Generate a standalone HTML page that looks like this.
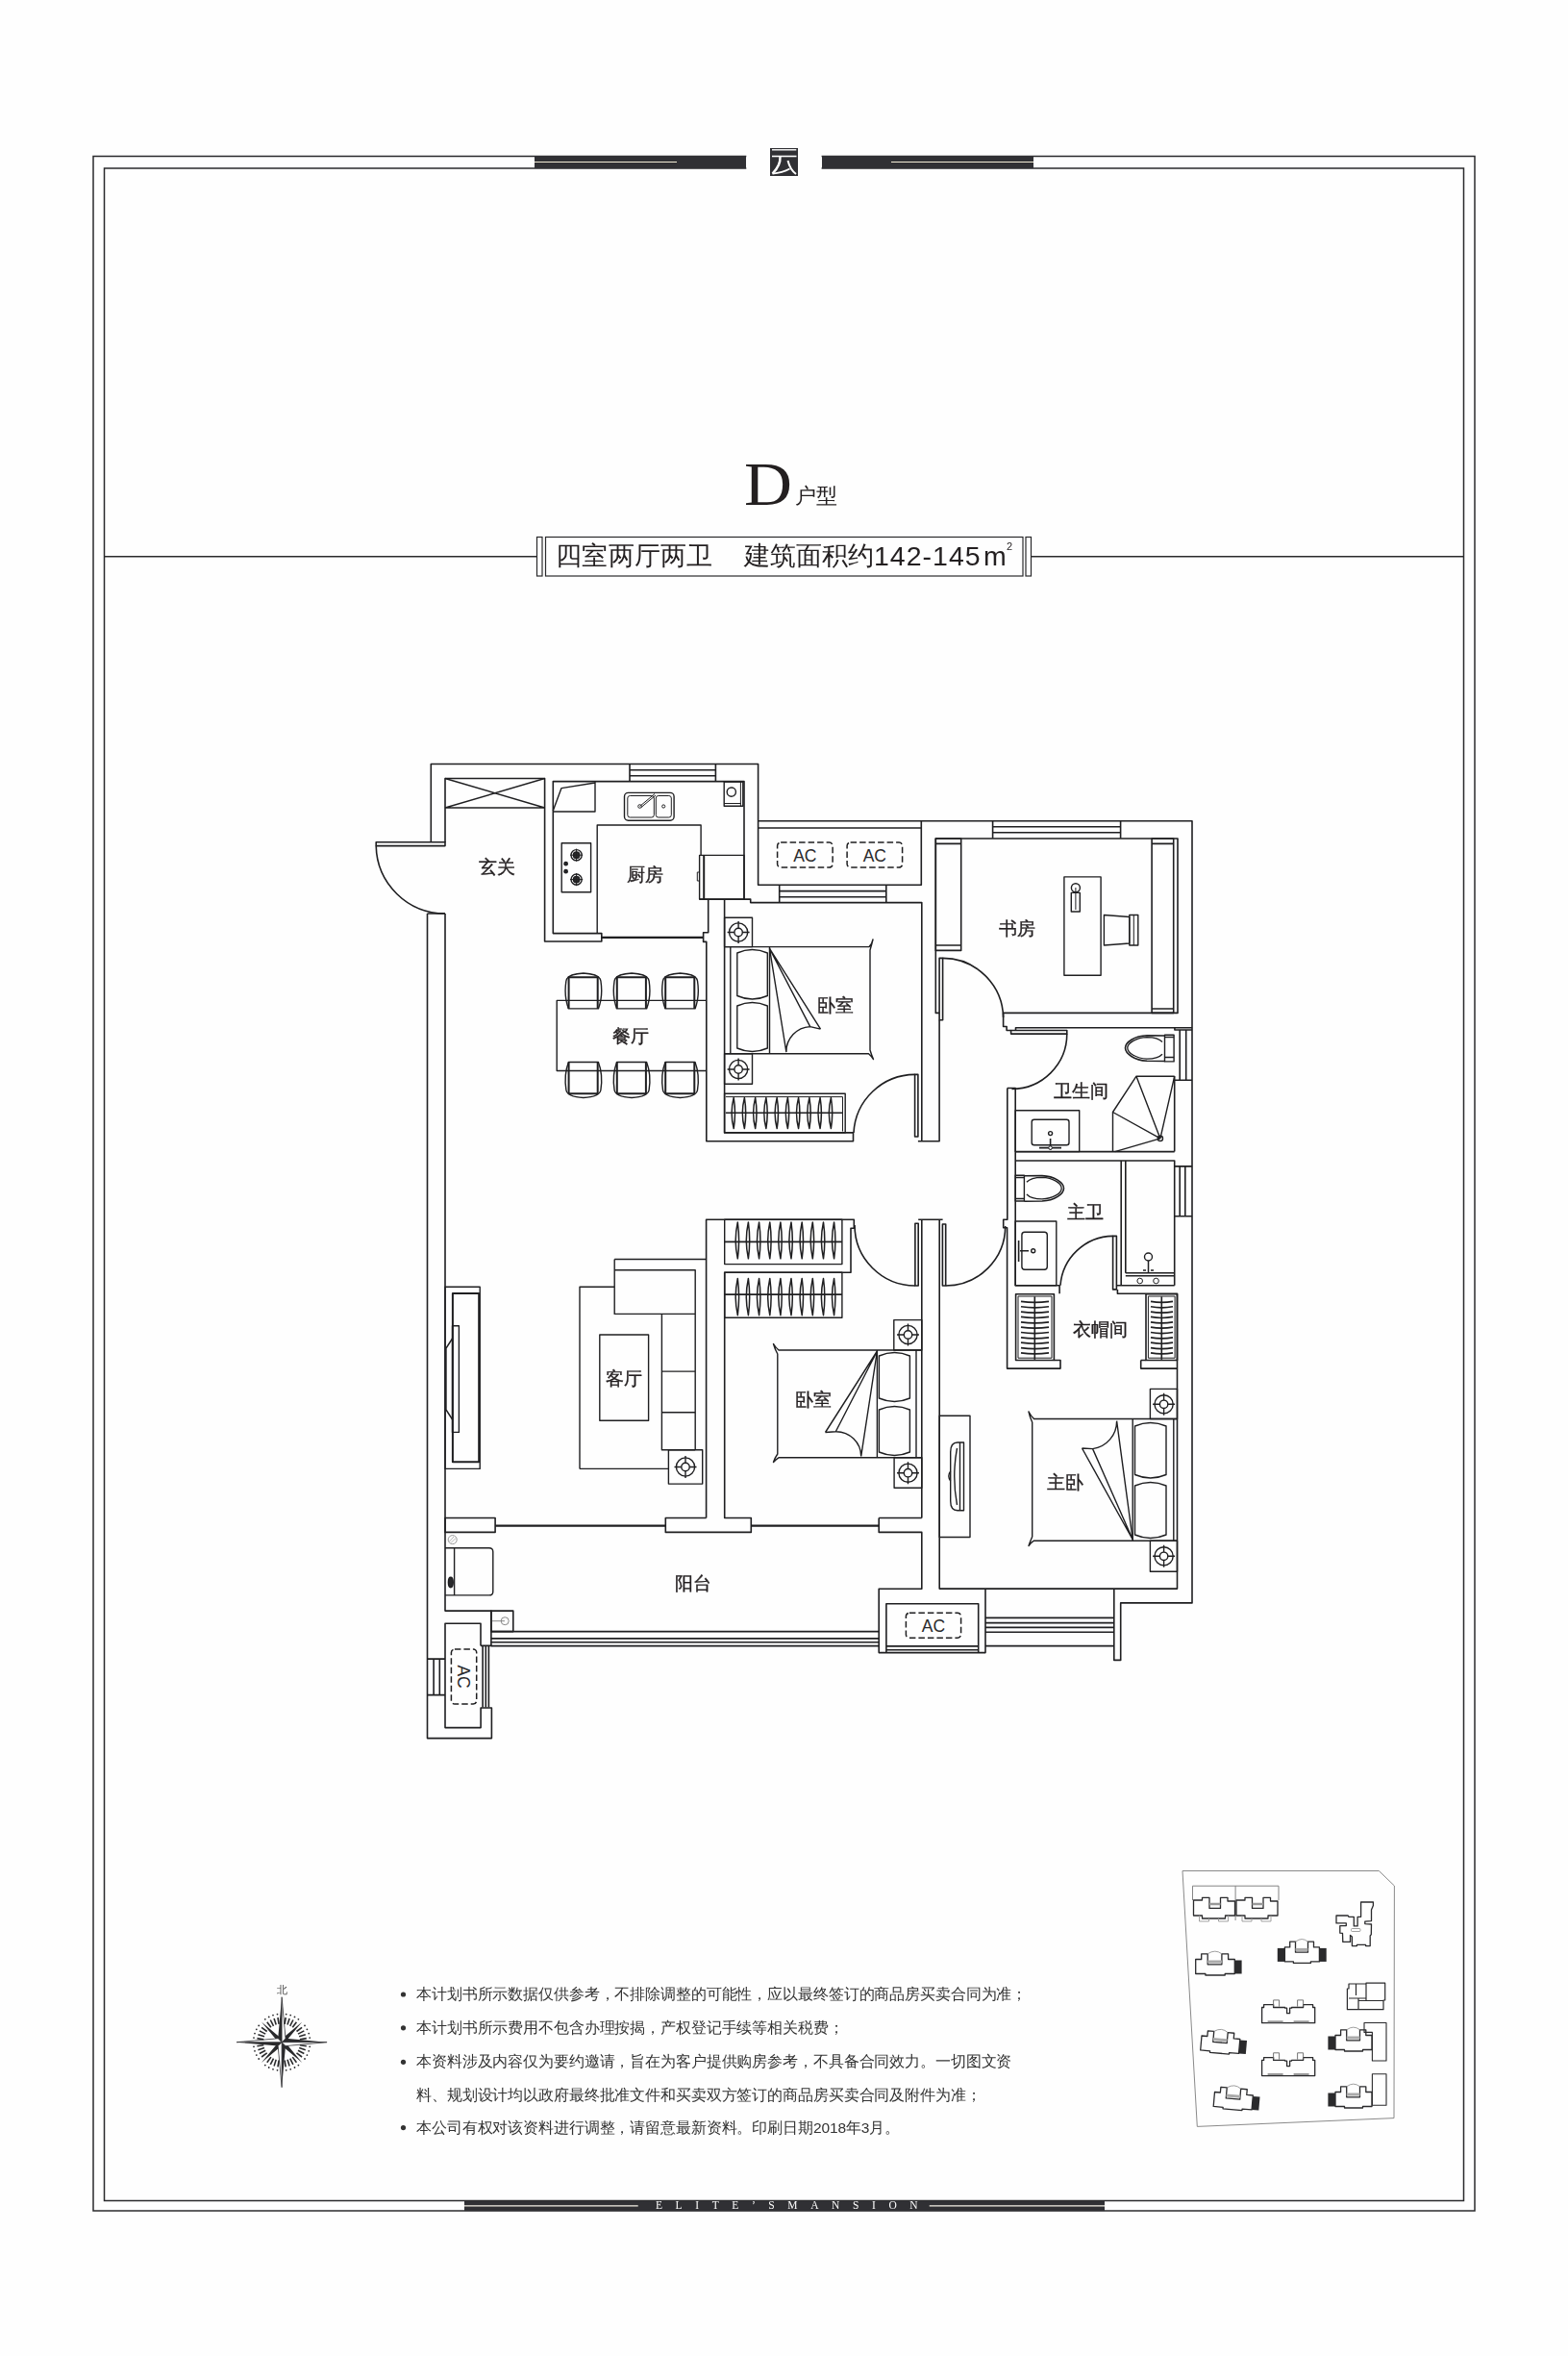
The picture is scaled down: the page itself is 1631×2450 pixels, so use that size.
<!DOCTYPE html>
<html><head><meta charset="utf-8">
<style>
html,body{margin:0;padding:0;background:#fefefe;}
body{width:1631px;height:2450px;position:relative;overflow:hidden;font-family:"Liberation Sans",sans-serif;}
svg{position:absolute;left:0;top:0;}
.t{position:absolute;white-space:nowrap;line-height:1;color:#231f20;will-change:transform;}
.lb{font-family:"Liberation Serif",serif;font-size:19px;-webkit-text-stroke:0.35px #231f20;}
.nt{font-size:15.5px;color:#333;letter-spacing:-0.12px;}
</style></head><body>
<svg width="1631" height="2450" viewBox="0 0 1631 2450">
<g fill="none" stroke="#2a2a2c" stroke-width="1.5">
<!-- frame -->
<rect x="97" y="162.5" width="1437" height="2136.5"/>
<rect x="108.5" y="175" width="1414" height="2113.5"/>
<line x1="108.5" y1="578.7" x2="558.5" y2="578.7"/>
<line x1="1073" y1="578.7" x2="1522.5" y2="578.7"/>
<rect x="558.5" y="558.5" width="5.5" height="40.5" stroke-width="1.2"/>
<rect x="567.5" y="558.5" width="496.5" height="40.5" stroke-width="1.2"/>
<rect x="1067" y="558.5" width="5.5" height="40.5" stroke-width="1.2"/>
</g>
<!-- header bars -->
<rect x="776.3" y="159" width="24.9" height="19" fill="#fefefe"/><rect x="829.8" y="159" width="24.8" height="19" fill="#fefefe"/>
<g fill="#303034">
<rect x="556" y="162" width="220" height="13"/>
<rect x="855" y="162" width="220" height="13"/>
<rect x="801" y="154" width="29" height="29"/>
</g>
<g fill="none" stroke="#fff" stroke-linecap="butt">
<path d="M803,155.8 H828.3" stroke-width="1.4"/>
<path d="M803,162.5 H828.5" stroke-width="1.6"/>
<path d="M811.5,163 C812,170 809,175 803.5,180.5" stroke-width="2.4"/>
<path d="M803.5,180.6 C810,180 816,178.5 821.5,175.5" stroke-width="1.8"/>
<path d="M819.5,167 C821,173 824,178 828,181" stroke-width="2"/>
</g>
<g stroke="#f3ecd6" stroke-width="1.2">
<line x1="556" y1="168.5" x2="704" y2="168.5"/>
<line x1="927" y1="168.5" x2="1075" y2="168.5"/>
</g>

<g id="plan" fill="none" stroke="#1f1f21" stroke-width="1.6" stroke-linejoin="round">
<!-- entry / top-left -->
<rect x="391.2" y="875.8" width="71.8" height="3.8"/>
<path d="M448.3,876 V794.5 H788.6 V920.3 H958.3 V853.7"/>
<path d="M788.6,853.7 H1240 V1666.9 H1165.7 V1726.4 H1158.8 V1652.7"/>
<path d="M788.6,861 H958.3"/>
<path d="M463,876 V809.5 H566.6 V979 H625.8 V970.6 H575.3 V812.6 H774 V935.1"/>
<path d="M463,840 H566.6 M463,809.5 L566.6,840 M463,840 L566.6,809.5" stroke-width="1.4"/>
<path d="M444.5,950 H463 M444.5,950 V1807.6 H511.4 V1776 H500.1 V1796.6 H463 V1688.2 H500 V1711.4"/>
<path d="M463,950 V1675.1 H510.9 V1711.5"/>
<!-- door arcs -->
<path d="M391.2,879.6 A71.8,71.8 0 0 0 463,950"/>
<!-- kitchen windows -->
<path d="M655,794.5 V812.6 M744.4,794.5 V812.6 M655,800.7 H744.4 M655,806.8 H744.4"/>
<!-- kitchen south wall / sliding door -->
<path d="M625.8,974.9 H731.6" stroke-width="2.2"/>
<path d="M727.4,935.1 H780.7 V938.6 H958.8 V1186.7"/>
<path d="M736.7,935.1 V969.8 H731.6 V979.4 H734.8 V1186.7 H887.5 V1177.9 H753.6 V935.1"/>
<!-- AC window below platform -->
<path d="M810.7,920.3 V939 M921.8,920.3 V939 M810.7,926.6 H921.8 M810.7,932.7 H921.8"/>
<!-- bedroom2 door -->
<rect x="951.6" y="1117.4" width="3.3" height="64.6"/>
<path d="M888,1177.9 A64,64 0 0 1 951.6,1117.4"/>
<path d="M954.9,1186.7 H977.1 V1060.8"/>
<!-- study -->
<path d="M977.1,1053.4 H973.3 V872 H1225 V1053.4 H1043.6 V1067.5 H1047.1 V1071.5 H1051.6"/>
<rect x="977.1" y="996.4" width="3.5" height="64.4"/>
<path d="M980.6,996.4 A63,63 0 0 1 1043.6,1058"/>
<path d="M1032.6,853.7 V871.7 M1165.6,853.7 V871.7 M1032.6,859.7 H1165.6 M1032.6,865.8 H1165.6"/>
<rect x="973.3" y="872" width="26.4" height="116.4"/>
<path d="M973.3,877.4 H999.7 M973.3,983 H999.7"/>
<rect x="1198.1" y="872" width="22.6" height="181.4"/>
<path d="M1198.1,877.4 H1220.7 M1198.1,1049 H1220.7"/>
<!-- bathroom 1 -->
<rect x="1051.6" y="1071.5" width="58.2" height="3.6"/>
<path d="M1056.5,1071.5 V1068.7 H1240"/>
<path d="M1109.8,1075.1 A57.3,57.3 0 0 1 1052.5,1132.4"/>
<path d="M1047.8,1131.5 H1056.2 V1336.7 H1102.1 V1345.3 M1047.8,1131.5 V1268.2 H1043.7 V1276.8 H1047.6 V1423.1 H1103 V1414.5 H1096.4"/>
<path d="M1221.9,1068.7 V1071 H1240 M1221.7,1123.3 H1240 M1227.2,1071 V1123.3 M1233.7,1071 V1123.3 M1221.7,1119.2 V1197.6"/>
<path d="M1056.2,1197.6 H1221.7 M1056.2,1207 H1221.7 V1336.7"/>
<path d="M1221.7,1212.9 H1240 M1221.7,1264.7 H1240 M1227.2,1212.9 V1264.7 M1232.8,1212.9 V1264.7"/>
<!-- master bath -->
<path d="M1166.2,1207 V1336.7 M1170.8,1207 V1323.7"/>
<rect x="1157.6" y="1285.4" width="3.8" height="55.5"/>
<path d="M1103,1336.7 A55.5,55.5 0 0 1 1157.6,1285.4"/>
<path d="M1161.4,1336.7 H1221.7 M1162.4,1340.9 V1345.3 H1224.5 V1652.1 H977.2 V1268.2"/>
<!-- closets -->
<rect x="1056.6" y="1345.7" width="39.8" height="68.8"/>
<rect x="1059" y="1348" width="35" height="64.2" stroke-width="1"/>
<rect x="1192" y="1345.7" width="32.5" height="68.8"/>
<rect x="1194.4" y="1348" width="27.7" height="64.2" stroke-width="1"/>
<path d="M1186.7,1414.5 V1423.1 H1224.5 M1186.7,1414.5 H1192"/>
<!-- corridor doors -->
<rect x="951.9" y="1272.3" width="3.3" height="64.7"/>
<rect x="980.4" y="1273" width="3.3" height="64"/>
<path d="M889,1274 A63,63 0 0 0 951.9,1337"/>
<path d="M983.7,1337 A62,62 0 0 0 1045.7,1275"/>
<path d="M955.2,1268.2 H980.6 M958.8,1268.2 V1578.5"/>
<!-- bedroom 3 -->
<path d="M734.6,1578.5 V1268.2 H888.3 V1277.3 H885 V1323.2 H753.7 V1578.5 H781.3 V1593.4 H692.3 V1578.5 H734.6"/>
<path d="M914.2,1578.5 H958.8 M914.2,1578.5 V1593.4 H958.8 V1652.2 H914.2 V1718.6 H1025 V1652.2"/>
<path d="M921.9,1718.6 V1667.7 H1017.7 V1718.6 M921.9,1711.9 H1017.7 M921.9,1715.7 H1017.7"/>
<path d="M1025,1682.4 H1158.8 M1025,1687.6 H1158.8 M1025,1692.4 H1158.8 M1025,1697.2 H1158.8 M1025,1711.6 H1158.8"/>
<!-- living balcony -->
<rect x="463" y="1578.5" width="52.1" height="14.9"/>
<path d="M515.1,1586.6 H692.3 M781.3,1586.6 H914.2" stroke-width="2.2"/>
<path d="M510.9,1696.6 H914.2 M510.9,1703.9 H914.2 M510.9,1707.8 H914.2 M510.9,1711.6 H914.2"/>
<rect x="510.9" y="1675.1" width="22.9" height="21.5"/>
<circle cx="525.2" cy="1685.7" r="4" stroke="#888" stroke-width="1"/>
<path d="M512,1685.7 H525" stroke="#888" stroke-width="1"/>
<path d="M444.5,1725.1 H463 M444.5,1762.6 H463 M451.1,1725.1 V1762.6 M457.3,1725.1 V1762.6"/>
<path d="M502.1,1711.4 V1775.5 M505.3,1711.4 V1775.5 M508.4,1711.4 V1775.5 M500,1711.4 H511.4"/>
</g>

<g fill="none" stroke="#1f1f21" stroke-width="1.4" stroke-linejoin="round">
<rect x="753.6" y="954.2" width="28.9" height="30.4"/><circle cx="768.1" cy="969.5" r="9.6"/><circle cx="768.1" cy="969.5" r="4.2"/><path d="M756.6,969.5 H763.9 M772.3,969.5 H779.6 M768.1,958.0 V965.3 M768.1,973.7 V981.0"/>
<rect x="753.6" y="1095.8" width="28.9" height="31.5"/><circle cx="768.1" cy="1112" r="9.6"/><circle cx="768.1" cy="1112" r="4.2"/><path d="M756.6,1112 H763.9 M772.3,1112 H779.6 M768.1,1100.5 V1107.8 M768.1,1116.2 V1123.5"/>
<rect x="929.8" y="1372.6" width="29.0" height="31.4"/><circle cx="944.5" cy="1388" r="9.6"/><circle cx="944.5" cy="1388" r="4.2"/><path d="M933.0,1388 H940.3 M948.7,1388 H956.0 M944.5,1376.5 V1383.8 M944.5,1392.2 V1399.5"/>
<rect x="930.1" y="1515.8" width="28.7" height="31.5"/><circle cx="944.5" cy="1531.7" r="9.6"/><circle cx="944.5" cy="1531.7" r="4.2"/><path d="M933.0,1531.7 H940.3 M948.7,1531.7 H956.0 M944.5,1520.2 V1527.5 M944.5,1535.9 V1543.2"/>
<rect x="1196.4" y="1444.4" width="28.1" height="31.1"/><circle cx="1210.6" cy="1460.3" r="9.6"/><circle cx="1210.6" cy="1460.3" r="4.2"/><path d="M1199.1,1460.3 H1206.4 M1214.8,1460.3 H1222.1 M1210.6,1448.8 V1456.1 M1210.6,1464.5 V1471.8"/>
<rect x="1196.4" y="1602.2" width="28.1" height="32.0"/><circle cx="1210.6" cy="1618.3" r="9.6"/><circle cx="1210.6" cy="1618.3" r="4.2"/><path d="M1199.1,1618.3 H1206.4 M1214.8,1618.3 H1222.1 M1210.6,1606.8 V1614.1 M1210.6,1622.5 V1629.8"/>
<rect x="695.4" y="1507.7" width="35.3" height="35.4"/><circle cx="713" cy="1525.5" r="9.6"/><circle cx="713" cy="1525.5" r="4.2"/><path d="M701.5,1525.5 H708.8 M717.2,1525.5 H724.5 M713,1514.0 V1521.3 M713,1529.7 V1537.0"/>
<path d="M753.6,984.6 H904 Q907,982 908,977 Q906.5,983 905,988 V1092 Q906.5,1097 908.5,1101.5 Q906,1098 903.5,1095.8 H753.6"/>
<path d="M759.8,984.6 V1095.8 M800.5,984.6 V1095.8"/>
<path d="M766.8,991 Q782.5,984 798.3,991 V1035.5 Q782.5,1042.5 766.8,1035.5 Z M766.8,1046 Q782.5,1039 798.3,1046 V1090 Q782.5,1097 766.8,1090 Z"/>
<path d="M800.5,986.4 L853.5,1070.1 M800.5,986.4 L842.7,1067.6 M800.5,986.4 L817.9,1094.2 M817.9,1094.2 A26,26 0 0 1 842.7,1067.6 L853.5,1070.1"/>
<path d="M958.8,1404 H810 Q806.5,1401 804.5,1397.5 Q806,1403 808.8,1408 V1512 Q806,1516 804.5,1520.5 Q807,1517.5 810,1515.8 H958.8"/>
<path d="M912.4,1404 V1515.8 M953,1404 V1515.8"/>
<path d="M914.4,1410 Q930.4,1403 946.4,1410 V1454 Q930.4,1461 914.4,1454 Z M914.4,1466 Q930.4,1459 946.4,1466 V1510 Q930.4,1517 914.4,1510 Z"/>
<path d="M912.4,1405 L858.5,1489.5 M912.4,1405 L869.3,1488.7 M912.4,1405 L895.7,1514.4 M858.5,1489.5 L869.3,1488.7 A26,26 0 0 1 895.7,1514.4"/>
<path d="M1224.5,1475.5 H1075.5 Q1072,1472 1070,1468 Q1071.5,1474.5 1073.7,1479 V1598 Q1071.5,1603 1070,1607.5 Q1072.5,1604 1075.5,1602.2 H1224.5"/>
<path d="M1178.2,1475.5 V1602.2 M1220.8,1475.5 V1602.2"/>
<path d="M1180.5,1483 Q1196.7,1476 1213,1483 V1533.5 Q1196.7,1540.5 1180.5,1533.5 Z M1180.5,1545 Q1196.7,1538 1213,1545 V1596 Q1196.7,1603 1180.5,1596 Z"/>
<path d="M1178.2,1601 L1125.5,1506 M1178.2,1601 L1136.6,1506.6 M1178.2,1601 L1161.6,1477.7 M1125.5,1506 L1136.6,1506.6 A29,29 0 0 0 1161.6,1477.7"/>
<rect x="753.6" y="1137.3" width="125.6" height="40.6"/><path d="M754.9,1140.6 H876.5 V1176.5" stroke-width="1"/>
<path d="M754.9,1157.2 H876" stroke-width="1.6"/>
<path d="M763.2,1141.5 Q759.0,1157.5 763.2,1173.5 Q765.8,1157.5 763.2,1141.5 Z" stroke-width="1.5"/><path d="M774.4,1141.5 Q770.2,1157.5 774.4,1173.5 Q777.0,1157.5 774.4,1141.5 Z" stroke-width="1.5"/><path d="M785.7,1141.5 Q781.5,1157.5 785.7,1173.5 Q788.3,1157.5 785.7,1141.5 Z" stroke-width="1.5"/><path d="M796.9,1141.5 Q792.7,1157.5 796.9,1173.5 Q799.5,1157.5 796.9,1141.5 Z" stroke-width="1.5"/><path d="M808.2,1141.5 Q804.0,1157.5 808.2,1173.5 Q810.8,1157.5 808.2,1141.5 Z" stroke-width="1.5"/><path d="M819.4,1141.5 Q815.2,1157.5 819.4,1173.5 Q822.0,1157.5 819.4,1141.5 Z" stroke-width="1.5"/><path d="M830.6,1141.5 Q826.4,1157.5 830.6,1173.5 Q833.2,1157.5 830.6,1141.5 Z" stroke-width="1.5"/><path d="M841.9,1141.5 Q837.7,1157.5 841.9,1173.5 Q844.5,1157.5 841.9,1141.5 Z" stroke-width="1.5"/><path d="M853.1,1141.5 Q848.9,1157.5 853.1,1173.5 Q855.7,1157.5 853.1,1141.5 Z" stroke-width="1.5"/><path d="M864.4,1141.5 Q860.2,1157.5 864.4,1173.5 Q867.0,1157.5 864.4,1141.5 Z" stroke-width="1.5"/>
<rect x="753.7" y="1268.2" width="122.2" height="46.4"/><path d="M753.7,1291.4 H875.9" stroke-width="1.6"/>
<path d="M767.3,1271.0 Q763.1,1289.9 767.3,1308.8 Q769.9,1289.9 767.3,1271.0 Z" stroke-width="1.5"/><path d="M778.4,1271.0 Q774.2,1289.9 778.4,1308.8 Q781.0,1289.9 778.4,1271.0 Z" stroke-width="1.5"/><path d="M789.6,1271.0 Q785.4,1289.9 789.6,1308.8 Q792.2,1289.9 789.6,1271.0 Z" stroke-width="1.5"/><path d="M800.8,1271.0 Q796.6,1289.9 800.8,1308.8 Q803.4,1289.9 800.8,1271.0 Z" stroke-width="1.5"/><path d="M811.9,1271.0 Q807.7,1289.9 811.9,1308.8 Q814.5,1289.9 811.9,1271.0 Z" stroke-width="1.5"/><path d="M823.0,1271.0 Q818.8,1289.9 823.0,1308.8 Q825.6,1289.9 823.0,1271.0 Z" stroke-width="1.5"/><path d="M834.2,1271.0 Q830.0,1289.9 834.2,1308.8 Q836.8,1289.9 834.2,1271.0 Z" stroke-width="1.5"/><path d="M845.3,1271.0 Q841.1,1289.9 845.3,1308.8 Q847.9,1289.9 845.3,1271.0 Z" stroke-width="1.5"/><path d="M856.5,1271.0 Q852.3,1289.9 856.5,1308.8 Q859.1,1289.9 856.5,1271.0 Z" stroke-width="1.5"/><path d="M867.6,1271.0 Q863.4,1289.9 867.6,1308.8 Q870.2,1289.9 867.6,1271.0 Z" stroke-width="1.5"/>
<rect x="753.7" y="1323.2" width="122.2" height="47"/><path d="M753.7,1346.1 H875.9" stroke-width="1.6"/>
<path d="M767.3,1329.5 Q763.1,1348.6 767.3,1367.7 Q769.9,1348.6 767.3,1329.5 Z" stroke-width="1.5"/><path d="M778.4,1329.5 Q774.2,1348.6 778.4,1367.7 Q781.0,1348.6 778.4,1329.5 Z" stroke-width="1.5"/><path d="M789.6,1329.5 Q785.4,1348.6 789.6,1367.7 Q792.2,1348.6 789.6,1329.5 Z" stroke-width="1.5"/><path d="M800.8,1329.5 Q796.6,1348.6 800.8,1367.7 Q803.4,1348.6 800.8,1329.5 Z" stroke-width="1.5"/><path d="M811.9,1329.5 Q807.7,1348.6 811.9,1367.7 Q814.5,1348.6 811.9,1329.5 Z" stroke-width="1.5"/><path d="M823.0,1329.5 Q818.8,1348.6 823.0,1367.7 Q825.6,1348.6 823.0,1329.5 Z" stroke-width="1.5"/><path d="M834.2,1329.5 Q830.0,1348.6 834.2,1367.7 Q836.8,1348.6 834.2,1329.5 Z" stroke-width="1.5"/><path d="M845.3,1329.5 Q841.1,1348.6 845.3,1367.7 Q847.9,1348.6 845.3,1329.5 Z" stroke-width="1.5"/><path d="M856.5,1329.5 Q852.3,1348.6 856.5,1367.7 Q859.1,1348.6 856.5,1329.5 Z" stroke-width="1.5"/><path d="M867.6,1329.5 Q863.4,1348.6 867.6,1367.7 Q870.2,1348.6 867.6,1329.5 Z" stroke-width="1.5"/>
<path d="M1076.3,1348.3 V1413.8" stroke-width="1.6"/><path d="M1062,1353.3999999999999 Q1076.3,1355.5 1091,1353.3999999999999" stroke-width="1.7"/><path d="M1062,1358.7499999999998 Q1076.3,1360.85 1091,1358.7499999999998" stroke-width="1.7"/><path d="M1062,1364.1 Q1076.3,1366.2 1091,1364.1" stroke-width="1.7"/><path d="M1062,1369.4499999999998 Q1076.3,1371.55 1091,1369.4499999999998" stroke-width="1.7"/><path d="M1062,1374.8 Q1076.3,1376.9 1091,1374.8" stroke-width="1.7"/><path d="M1062,1380.1499999999999 Q1076.3,1382.25 1091,1380.1499999999999" stroke-width="1.7"/><path d="M1062,1385.4999999999998 Q1076.3,1387.6 1091,1385.4999999999998" stroke-width="1.7"/><path d="M1062,1390.85 Q1076.3,1392.95 1091,1390.85" stroke-width="1.7"/><path d="M1062,1396.1999999999998 Q1076.3,1398.3 1091,1396.1999999999998" stroke-width="1.7"/><path d="M1062,1401.55 Q1076.3,1403.65 1091,1401.55" stroke-width="1.7"/><path d="M1062,1406.8999999999999 Q1076.3,1409.0 1091,1406.8999999999999" stroke-width="1.7"/>
<path d="M1208.3,1348.3 V1413.8" stroke-width="1.6"/><path d="M1197,1353.3999999999999 Q1208.3,1355.5 1220,1353.3999999999999" stroke-width="1.7"/><path d="M1197,1358.7499999999998 Q1208.3,1360.85 1220,1358.7499999999998" stroke-width="1.7"/><path d="M1197,1364.1 Q1208.3,1366.2 1220,1364.1" stroke-width="1.7"/><path d="M1197,1369.4499999999998 Q1208.3,1371.55 1220,1369.4499999999998" stroke-width="1.7"/><path d="M1197,1374.8 Q1208.3,1376.9 1220,1374.8" stroke-width="1.7"/><path d="M1197,1380.1499999999999 Q1208.3,1382.25 1220,1380.1499999999999" stroke-width="1.7"/><path d="M1197,1385.4999999999998 Q1208.3,1387.6 1220,1385.4999999999998" stroke-width="1.7"/><path d="M1197,1390.85 Q1208.3,1392.95 1220,1390.85" stroke-width="1.7"/><path d="M1197,1396.1999999999998 Q1208.3,1398.3 1220,1396.1999999999998" stroke-width="1.7"/><path d="M1197,1401.55 Q1208.3,1403.65 1220,1401.55" stroke-width="1.7"/><path d="M1197,1406.8999999999999 Q1208.3,1409.0 1220,1406.8999999999999" stroke-width="1.7"/>
<path d="M734.4,1040.4 H579.2 V1113.5 H734.4"/>
<path d="M591.4,1048.9 Q586.4,1036 588.9,1020 Q589.9,1013 606.9,1012 Q623.9,1013 624.9,1020 Q627.4,1036 622.4,1048.9 Z"/><path d="M591.6,1048.9 V1016.3 H621.6999999999999 V1048.9" stroke-width="2"/>
<path d="M591.4,1104.5 Q586.4,1117.5 588.9,1133.5 Q589.9,1140.5 606.9,1141.5 Q623.9,1140.5 624.9,1133.5 Q627.4,1117.5 622.4,1104.5 Z"/><path d="M591.6,1104.5 V1137.2 H621.6999999999999 V1104.5" stroke-width="2"/>
<path d="M641.6,1048.9 Q636.6,1036 639.1,1020 Q640.1,1013 657.1,1012 Q674.1,1013 675.1,1020 Q677.6,1036 672.6,1048.9 Z"/><path d="M641.8000000000001,1048.9 V1016.3 H671.9 V1048.9" stroke-width="2"/>
<path d="M641.6,1104.5 Q636.6,1117.5 639.1,1133.5 Q640.1,1140.5 657.1,1141.5 Q674.1,1140.5 675.1,1133.5 Q677.6,1117.5 672.6,1104.5 Z"/><path d="M641.8000000000001,1104.5 V1137.2 H671.9 V1104.5" stroke-width="2"/>
<path d="M692.0,1048.9 Q687.0,1036 689.5,1020 Q690.5,1013 707.5,1012 Q724.5,1013 725.5,1020 Q728.0,1036 723.0,1048.9 Z"/><path d="M692.2,1048.9 V1016.3 H722.3 V1048.9" stroke-width="2"/>
<path d="M692.0,1104.5 Q687.0,1117.5 689.5,1133.5 Q690.5,1140.5 707.5,1141.5 Q724.5,1140.5 725.5,1133.5 Q728.0,1117.5 723.0,1104.5 Z"/><path d="M692.2,1104.5 V1137.2 H722.3 V1104.5" stroke-width="2"/>
<rect x="463" y="1338.2" width="36.2" height="189.2"/><rect x="470.9" y="1345.1" width="27.3" height="175.1" stroke-width="2"/>
<rect x="470.5" y="1378.7" width="6.9" height="110.7"/><path d="M470.5,1392 L464,1402 V1466 L470.5,1476"/>
<path d="M603,1527.4 V1338.2 H639.2 M639.2,1309.5 H734.5 M639.2,1309.5 V1366.4 H723.2 M639.2,1320.8 H723.2 V1507.7 M688.4,1366.4 V1507.7 H723.2 M688.4,1426.1 H723.2 M688.4,1468.7 H723.2 M603,1527.4 H695.4"/>
<rect x="623.8" y="1388" width="50.8" height="89.2"/>
<rect x="977.2" y="1472.3" width="31.8" height="126.2"/>
<path d="M1002.5,1500 H996 Q988.7,1500 988.7,1510 V1561 Q988.7,1570.7 996,1570.7 H1002.5 Z M998.5,1500 V1570.7 M995.5,1506 Q990,1535 995.5,1565"/>
<path d="M988.7,1530 Q985,1535 988.7,1540" />
<path d="M575.3,844 H619 V812.6 M575.3,843 L584,819.6 L619,814"/>
<rect x="649.5" y="824.4" width="51.6" height="28.8" rx="4"/><rect x="652.8" y="827.5" width="27.5" height="22.5" rx="2.5" stroke-width="1"/><rect x="682.3" y="827.5" width="16" height="22.5" rx="2.5" stroke-width="1"/>
<path d="M665.5,838.5 L681,825.5 M667,839.5 L682,827" stroke-width="1"/><circle cx="665.5" cy="838.5" r="1.8" stroke-width="1"/><circle cx="690.2" cy="838.5" r="1.6" stroke-width="1"/>
<rect x="584.2" y="876.7" width="30.4" height="51"/>
<circle cx="599.6" cy="889.2" r="5.6"/><circle cx="599.6" cy="889.2" r="3.2" fill="#2a2a2c"/><path d="M593,889.2 H606.2 M599.6,882.6 V895.8000000000001" stroke-width="1"/>
<circle cx="599.6" cy="914.6" r="5.6"/><circle cx="599.6" cy="914.6" r="3.2" fill="#2a2a2c"/><path d="M593,914.6 H606.2 M599.6,908.0 V921.2" stroke-width="1"/>
<circle cx="588.6" cy="898.2" r="1.7" fill="#2a2a2c"/><circle cx="588.6" cy="906.2" r="1.7" fill="#2a2a2c"/>
<rect x="753.2" y="813" width="19.6" height="25.2"/><circle cx="760.8" cy="823.6" r="4.6"/><path d="M770.4,813 V838.2 M753.2,835.5 H770.4" stroke-width="1"/>
<path d="M621.2,970.6 V858 H729.1 V889.4"/>
<rect x="727.6" y="889.4" width="46.4" height="45.7"/><path d="M732.2,889.4 V935.1" stroke-width="2"/><path d="M727.6,907 H725.3 V916 H727.6" stroke-width="1"/>
<rect x="1106.9" y="911.9" width="38.2" height="102.3"/>
<circle cx="1118.9" cy="923.2" r="4.5"/><rect x="1114.3" y="928.4" width="9" height="19.6"/><path d="M1118.9,923 V946" stroke-width="1"/>
<path d="M1148.4,951.5 L1174.8,953.5 V981 L1148.4,983 Z"/><rect x="1174.8" y="951.5" width="9" height="31.5"/><path d="M1179.3,951.5 V983" stroke-width="1"/>
<rect x="1211.5" y="1076.3" width="9.6" height="27.6"/><path d="M1211.5,1078.5 H1221.1 M1211.5,1099.5 H1221.1" stroke-width="1.6"/>
<path d="M1211.5,1077 L1193,1076.8 C1180,1077.2 1170.5,1084 1170.5,1089.8 C1170.5,1095.5 1180,1102.7 1193,1103.3 L1211.5,1103.5" stroke-width="1.6"/><path d="M1209,1083.5 C1205.5,1079.5 1199,1078.6 1193,1078.6 C1182,1079 1172.8,1084.5 1172.8,1089.8 C1172.8,1095 1182,1100.8 1193,1101.1 C1199,1101.1 1205.5,1100 1209,1096.2" stroke-width="1.3"/>

<rect x="1056.2" y="1154.7" width="66.5" height="42.9"/><rect x="1073.2" y="1164.3" width="38.8" height="26.4" rx="2.5"/>
<circle cx="1092.6" cy="1178.6" r="2"/><path d="M1092.6,1184 V1196 M1081,1193.6 H1104" stroke-width="1.6"/><circle cx="1092.6" cy="1193.6" r="1.8" fill="#fff" stroke-width="1"/>
<path d="M1157.5,1197.6 V1156.5 L1182,1119.2 H1221.7"/><circle cx="1206.9" cy="1183.9" r="2.6" fill="#fff"/>
<path d="M1206.9,1183.9 L1157.5,1156.5 M1206.9,1183.9 L1182,1119.2 M1206.9,1183.9 L1221.7,1119.2 M1206.9,1183.9 L1159.7,1197.6"/>
<rect x="1056.2" y="1222.2" width="9.2" height="26.8"/><path d="M1056.2,1224.5 H1065.4 M1056.2,1246.5 H1065.4" stroke-width="1.6"/>
<path d="M1065.4,1222.8 L1084,1222.6 C1097,1223 1106.5,1229.8 1106.5,1235.7 C1106.5,1241.5 1097,1248.5 1084,1249 L1065.4,1249.2" stroke-width="1.6"/><path d="M1067.9,1229.3 C1071.5,1225.3 1078,1224.4 1084,1224.4 C1095,1224.8 1104.2,1230.3 1104.2,1235.7 C1104.2,1241 1095,1246.6 1084,1246.9 C1078,1246.9 1071.5,1245.8 1067.9,1242" stroke-width="1.3"/>

<rect x="1056.2" y="1270" width="42.6" height="66.7"/><rect x="1062.9" y="1281.2" width="26.4" height="39" rx="3"/>
<circle cx="1074.7" cy="1300.7" r="2"/><path d="M1059.6,1290 V1312 M1061,1300.7 H1070" stroke-width="1.6"/>
<path d="M1170.8,1323.7 H1221.7 M1170.8,1326.7 H1221.7"/><circle cx="1185.7" cy="1332" r="2.8" stroke-width="1"/><circle cx="1202.5" cy="1332" r="2.8" stroke-width="1"/>
<circle cx="1194.5" cy="1307" r="4"/><path d="M1194.5,1311 V1323.7 M1189,1321 H1192 M1197,1321 H1200" stroke-width="1.5"/>
<path d="M463,1609.7 H508.8 Q512.8,1609.7 512.8,1613.7 V1654.9 Q512.8,1658.9 508.8,1658.9 H463 M472.6,1609.7 V1658.9"/>
<ellipse cx="468.8" cy="1645.5" rx="2.4" ry="5.2" fill="#2a2a2c"/>
<circle cx="470.7" cy="1601.1" r="4.5" stroke="#999" stroke-width="1"/><path d="M467.5,1603 L472,1598 M469,1604.5 L474,1599.5" stroke="#aaa" stroke-width="0.9"/>
<g stroke-dasharray="6.5,3" stroke-width="1.5">
<rect x="808.6" y="876.1" width="57.5" height="25.9" rx="3.5"/><rect x="881.1" y="876.1" width="57.5" height="25.9" rx="3.5"/>
<rect x="942.4" y="1677.3" width="57.2" height="25.9" rx="3.5"/><rect x="469.4" y="1715.1" width="26.3" height="57" rx="3.5"/>
</g>
</g>
<g fill="#2a2a2c" font-family="Liberation Sans, sans-serif" font-size="17.5" text-anchor="middle">
<text x="837.3" y="895.8">AC</text><text x="909.8" y="895.8">AC</text><text x="971" y="1696.5">AC</text>
<text x="0" y="0" transform="translate(476.3,1743.6) rotate(90)">AC</text>
</g>
<circle cx="419.5" cy="2074" r="2.6" fill="#333"/>
<circle cx="419.5" cy="2108.8" r="2.6" fill="#333"/>
<circle cx="419.5" cy="2144.3" r="2.6" fill="#333"/>
<circle cx="419.5" cy="2212.6" r="2.6" fill="#333"/>
<rect x="483" y="2288.6" width="666" height="10.5" fill="#303034"/>
<path d="M483,2293.9 H663.7 M966.7,2293.9 H1149" stroke="#f4f0e4" stroke-width="1.1"/>
<path d="M314.3,2144.9 L293.1,2127.2 L271.9,2144.9 L289.6,2123.7 L271.9,2102.5 L293.1,2120.2 L314.3,2102.5 L296.6,2123.7 Z" fill="#2a2a2c"/>
<path d="M293.1,2076.7 L297.0,2119.8 L340.1,2123.7 L297.0,2127.6 L293.1,2170.7 L289.2,2127.6 L246.1,2123.7 L289.2,2119.8 Z" fill="#2a2a2c"/>
<path d="M293.1,2123.7 L293.1,2076.7 L297.0,2119.8 Z" fill="#fff" stroke="#2a2a2c" stroke-width="0.7"/>
<path d="M293.1,2123.7 L340.1,2123.7 L297.0,2127.6 Z" fill="#fff" stroke="#2a2a2c" stroke-width="0.7"/>
<path d="M293.1,2123.7 L293.1,2170.7 L289.2,2127.6 Z" fill="#fff" stroke="#2a2a2c" stroke-width="0.7"/>
<path d="M293.1,2123.7 L246.1,2123.7 L289.2,2119.8 Z" fill="#fff" stroke="#2a2a2c" stroke-width="0.7"/>
<path d="M311.9,2126.7 L318.8,2127.8" stroke="#2a2a2c" stroke-width="1.6"/>
<circle cx="322.2" cy="2128.3" r="0.9" fill="#2a2a2c"/>
<path d="M311.2,2129.6 L317.8,2131.7" stroke="#2a2a2c" stroke-width="1.6"/>
<circle cx="321.2" cy="2132.8" r="0.9" fill="#2a2a2c"/>
<path d="M310.0,2132.3 L316.3,2135.5" stroke="#2a2a2c" stroke-width="1.6"/>
<circle cx="319.4" cy="2137.1" r="0.9" fill="#2a2a2c"/>
<path d="M308.5,2134.9 L314.1,2139.0" stroke="#2a2a2c" stroke-width="1.6"/>
<circle cx="317.0" cy="2141.0" r="0.9" fill="#2a2a2c"/>
<path d="M304.3,2139.1 L308.4,2144.7" stroke="#2a2a2c" stroke-width="1.6"/>
<circle cx="310.4" cy="2147.6" r="0.9" fill="#2a2a2c"/>
<path d="M301.7,2140.6 L304.9,2146.9" stroke="#2a2a2c" stroke-width="1.6"/>
<circle cx="306.5" cy="2150.0" r="0.9" fill="#2a2a2c"/>
<path d="M299.0,2141.8 L301.1,2148.4" stroke="#2a2a2c" stroke-width="1.6"/>
<circle cx="302.2" cy="2151.8" r="0.9" fill="#2a2a2c"/>
<path d="M296.1,2142.5 L297.2,2149.4" stroke="#2a2a2c" stroke-width="1.6"/>
<circle cx="297.7" cy="2152.8" r="0.9" fill="#2a2a2c"/>
<path d="M290.1,2142.5 L289.0,2149.4" stroke="#2a2a2c" stroke-width="1.6"/>
<circle cx="288.5" cy="2152.8" r="0.9" fill="#2a2a2c"/>
<path d="M287.2,2141.8 L285.1,2148.4" stroke="#2a2a2c" stroke-width="1.6"/>
<circle cx="284.0" cy="2151.8" r="0.9" fill="#2a2a2c"/>
<path d="M284.5,2140.6 L281.3,2146.9" stroke="#2a2a2c" stroke-width="1.6"/>
<circle cx="279.7" cy="2150.0" r="0.9" fill="#2a2a2c"/>
<path d="M281.9,2139.1 L277.8,2144.7" stroke="#2a2a2c" stroke-width="1.6"/>
<circle cx="275.8" cy="2147.6" r="0.9" fill="#2a2a2c"/>
<path d="M277.7,2134.9 L272.1,2139.0" stroke="#2a2a2c" stroke-width="1.6"/>
<circle cx="269.2" cy="2141.0" r="0.9" fill="#2a2a2c"/>
<path d="M276.2,2132.3 L269.9,2135.5" stroke="#2a2a2c" stroke-width="1.6"/>
<circle cx="266.8" cy="2137.1" r="0.9" fill="#2a2a2c"/>
<path d="M275.0,2129.6 L268.4,2131.7" stroke="#2a2a2c" stroke-width="1.6"/>
<circle cx="265.0" cy="2132.8" r="0.9" fill="#2a2a2c"/>
<path d="M274.3,2126.7 L267.4,2127.8" stroke="#2a2a2c" stroke-width="1.6"/>
<circle cx="264.0" cy="2128.3" r="0.9" fill="#2a2a2c"/>
<path d="M274.3,2120.7 L267.4,2119.6" stroke="#2a2a2c" stroke-width="1.6"/>
<circle cx="264.0" cy="2119.1" r="0.9" fill="#2a2a2c"/>
<path d="M275.0,2117.8 L268.4,2115.7" stroke="#2a2a2c" stroke-width="1.6"/>
<circle cx="265.0" cy="2114.6" r="0.9" fill="#2a2a2c"/>
<path d="M276.2,2115.1 L269.9,2111.9" stroke="#2a2a2c" stroke-width="1.6"/>
<circle cx="266.8" cy="2110.3" r="0.9" fill="#2a2a2c"/>
<path d="M277.7,2112.5 L272.1,2108.4" stroke="#2a2a2c" stroke-width="1.6"/>
<circle cx="269.2" cy="2106.4" r="0.9" fill="#2a2a2c"/>
<path d="M281.9,2108.3 L277.8,2102.7" stroke="#2a2a2c" stroke-width="1.6"/>
<circle cx="275.8" cy="2099.8" r="0.9" fill="#2a2a2c"/>
<path d="M284.5,2106.8 L281.3,2100.5" stroke="#2a2a2c" stroke-width="1.6"/>
<circle cx="279.7" cy="2097.4" r="0.9" fill="#2a2a2c"/>
<path d="M287.2,2105.6 L285.1,2099.0" stroke="#2a2a2c" stroke-width="1.6"/>
<circle cx="284.0" cy="2095.6" r="0.9" fill="#2a2a2c"/>
<path d="M290.1,2104.9 L289.0,2098.0" stroke="#2a2a2c" stroke-width="1.6"/>
<circle cx="288.5" cy="2094.6" r="0.9" fill="#2a2a2c"/>
<path d="M296.1,2104.9 L297.2,2098.0" stroke="#2a2a2c" stroke-width="1.6"/>
<circle cx="297.7" cy="2094.6" r="0.9" fill="#2a2a2c"/>
<path d="M299.0,2105.6 L301.1,2099.0" stroke="#2a2a2c" stroke-width="1.6"/>
<circle cx="302.2" cy="2095.6" r="0.9" fill="#2a2a2c"/>
<path d="M301.7,2106.8 L304.9,2100.5" stroke="#2a2a2c" stroke-width="1.6"/>
<circle cx="306.5" cy="2097.4" r="0.9" fill="#2a2a2c"/>
<path d="M304.3,2108.3 L308.4,2102.7" stroke="#2a2a2c" stroke-width="1.6"/>
<circle cx="310.4" cy="2099.8" r="0.9" fill="#2a2a2c"/>
<path d="M308.5,2112.5 L314.1,2108.4" stroke="#2a2a2c" stroke-width="1.6"/>
<circle cx="317.0" cy="2106.4" r="0.9" fill="#2a2a2c"/>
<path d="M310.0,2115.1 L316.3,2111.9" stroke="#2a2a2c" stroke-width="1.6"/>
<circle cx="319.4" cy="2110.3" r="0.9" fill="#2a2a2c"/>
<path d="M311.2,2117.8 L317.8,2115.7" stroke="#2a2a2c" stroke-width="1.6"/>
<circle cx="321.2" cy="2114.6" r="0.9" fill="#2a2a2c"/>
<path d="M311.9,2120.7 L318.8,2119.6" stroke="#2a2a2c" stroke-width="1.6"/>
<circle cx="322.2" cy="2119.1" r="0.9" fill="#2a2a2c"/>
<g fill="none" stroke="#2a2a2c" stroke-width="1.1" stroke-linejoin="round">
<path d="M1230,1945.5 H1434.3 L1450.4,1961 L1450,2202.6 L1245.3,2211.4 Z" stroke="#8a8a8a" stroke-width="1"/>
<path d="M1240.5,1976 V1961.2 H1330 V1976 M1285.1,1961.2 V1997" stroke="#777" stroke-width="0.9"/>
<path d="M1241.5,1976 H1250.5 V1973.3 H1258.0 V1984.4 H1269.5 V1973.3 H1277.0 V1977 H1284.5 V1992 H1274.5 V1995 H1250.5 V1992 H1241.5 Z" stroke-width="1.3"/><path d="M1258.0,1980 H1269.5" stroke="#999" stroke-width="2.5"/><path d="M1247.5,1992 V1998 H1257.5 V1995 M1267.5,1995 V1998 H1277.5 V1992" stroke="#999" stroke-width="0.9"/>
<path d="M1286,1976 H1295 V1973.3 H1302.5 V1984.4 H1314 V1973.3 H1321.5 V1977 H1329 V1992 H1319 V1995 H1295 V1992 H1286 Z" stroke-width="1.3"/><path d="M1302.5,1980 H1314" stroke="#999" stroke-width="2.5"/><path d="M1292,1992 V1998 H1302 V1995 M1312,1995 V1998 H1322 V1992" stroke="#999" stroke-width="0.9"/>
<path d="M1415.6,1978 L1428.4,1978 L1428.4,1981.5 L1426.5,1986.1 L1426.5,1997.6 L1419.8,1998.1 L1419.8,2000.6 L1426.5,2001 L1426.3,2011.7 L1425.2,2012.9 L1425.2,2023.6 L1420.6,2023.6 L1420.6,2022.4 L1411.4,2022.4 L1411.4,2023.6 L1406.4,2023.6 L1406.4,2014 L1404.5,2012.5 L1404.5,2019.4 L1396.8,2019.4 L1396.5,2010.4 L1393.8,2010.2 L1393.8,2002.7 L1400.3,2002.5 L1400.3,1999.9 L1390,1999.9 L1390,1992 L1402.2,1992 L1403,1993.3 L1408.3,1993.3 L1408.3,2002.9 L1412.1,2002.9 L1412.1,1993.3 L1415.6,1993.3 Z" stroke-width="1.3"/>
<rect x="1405.5" y="2005.5" width="9.5" height="3" rx="1" stroke="#888" stroke-width="0.8"/>
<g transform="translate(1336.4,2024.9) rotate(0)"><path d="M0,0 H5.3 V-5.7 H11.1 V5.3 H24.1 V-5.7 H30.1 V0 H36 V15 H27.0 V16.5 H9.0 V15 H0 Z" stroke-width="1.3"/><path d="M11.1,-5.7 Q18.0,-11 24.1,-5.7" stroke="#888" stroke-width="0.8"/><path d="M11.1,2.5 H24.1" stroke="#aaa" stroke-width="3"/><rect x="-7.6" y="1" width="7.6" height="14" fill="#2a2a2c" stroke="none"/><rect x="36" y="1" width="7.3" height="14" fill="#2a2a2c" stroke="none"/></g>
<g transform="translate(1243.7,2037.5) rotate(0)"><path d="M0,0 H6.0 V-5.7 H12.5 V5.3 H27.2 V-5.7 H33.9 V0 H40.6 V15 H30.5 V16.5 H10.2 V15 H0 Z" stroke-width="1.3"/><path d="M12.5,-5.7 Q20.3,-11 27.2,-5.7" stroke="#888" stroke-width="0.8"/><path d="M12.5,2.5 H27.2" stroke="#aaa" stroke-width="3"/><rect x="40.6" y="1" width="7.3" height="14" fill="#2a2a2c" stroke="none"/></g>
<g transform="translate(1250,2117) rotate(5)"><path d="M0,0 H5.9 V-5.7 H12.3 V5.3 H26.8 V-5.7 H33.4 V0 H40 V15 H30.0 V16.5 H10.0 V15 H0 Z" stroke-width="1.3"/><path d="M12.3,-5.7 Q20.0,-11 26.8,-5.7" stroke="#888" stroke-width="0.8"/><path d="M12.3,2.5 H26.8" stroke="#aaa" stroke-width="3"/><rect x="40" y="1" width="7.3" height="14" fill="#2a2a2c" stroke="none"/></g>
<g transform="translate(1389,2116.5) rotate(0)"><path d="M0,0 H5.6 V-5.7 H11.7 V5.3 H25.5 V-5.7 H31.8 V0 H38 V15 H28.5 V16.5 H9.5 V15 H0 Z" stroke-width="1.3"/><path d="M11.7,-5.7 Q19.0,-11 25.5,-5.7" stroke="#888" stroke-width="0.8"/><path d="M11.7,2.5 H25.5" stroke="#aaa" stroke-width="3"/><rect x="-7.6" y="1" width="7.6" height="14" fill="#2a2a2c" stroke="none"/></g>
<g transform="translate(1263.5,2175.5) rotate(5)"><path d="M0,0 H5.9 V-5.7 H12.3 V5.3 H26.8 V-5.7 H33.4 V0 H40 V15 H30.0 V16.5 H10.0 V15 H0 Z" stroke-width="1.3"/><path d="M12.3,-5.7 Q20.0,-11 26.8,-5.7" stroke="#888" stroke-width="0.8"/><path d="M12.3,2.5 H26.8" stroke="#aaa" stroke-width="3"/><rect x="40" y="1" width="7.3" height="14" fill="#2a2a2c" stroke="none"/></g>
<g transform="translate(1389,2175.5) rotate(0)"><path d="M0,0 H5.6 V-5.7 H11.7 V5.3 H25.5 V-5.7 H31.8 V0 H38 V15 H28.5 V16.5 H9.5 V15 H0 Z" stroke-width="1.3"/><path d="M11.7,-5.7 Q19.0,-11 25.5,-5.7" stroke="#888" stroke-width="0.8"/><path d="M11.7,2.5 H25.5" stroke="#aaa" stroke-width="3"/><rect x="-7.6" y="1" width="7.6" height="14" fill="#2a2a2c" stroke="none"/></g>
<path d="M1419,2103.5 H1442 V2143 H1427.4 V2113.4 H1419 Z"/><rect x="1427.4" y="2156.7" width="14.6" height="32.5"/>
<path d="M1401.4,2089.7 V2068 H1403 V2063 H1421 V2062.2 H1440.7 V2080 H1439 V2089.7 Z M1421,2062.2 V2078 H1403 M1410.5,2063 V2075 M1413,2078 V2089.7 M1413,2080.5 H1439 M1421,2078 V2080.5" stroke-width="1.2"/>
<path d="M1312.6,2087.5 H1314.6 V2084.7 H1324.6 V2087.5 H1336.6 V2088.2 H1338.6 V2093.7 H1341.6 V2088.2 H1343.6 V2087.5 H1355.6 V2084.7 H1365.6 V2087.5 H1367.6999999999998 V2103.7 H1312.6 Z" stroke-width="1.3"/><path d="M1324.6,2086.7 V2079.8999999999996 H1330.6 V2086.7 M1349.6,2086.7 V2079.8999999999996 H1355.6 V2086.7" stroke="#666" stroke-width="0.9"/><path d="M1318.6,2102.2 H1334.6 M1345.6,2102.2 H1361.6" stroke="#999" stroke-width="2"/>
<path d="M1312.6,2142.4 H1314.6 V2139.6 H1324.6 V2142.4 H1336.6 V2143.1 H1338.6 V2148.6 H1341.6 V2143.1 H1343.6 V2142.4 H1355.6 V2139.6 H1365.6 V2142.4 H1367.6999999999998 V2158.6 H1312.6 Z" stroke-width="1.3"/><path d="M1324.6,2141.6 V2134.7999999999997 H1330.6 V2141.6 M1349.6,2141.6 V2134.7999999999997 H1355.6 V2141.6" stroke="#666" stroke-width="0.9"/><path d="M1318.6,2157.1 H1334.6 M1345.6,2157.1 H1361.6" stroke="#999" stroke-width="2"/>
</g>
</svg>
<div class="t" id="bigD" style="left:773.5px;top:472px;font-family:'Liberation Serif',serif;font-size:64px;transform:scaleX(1.08);transform-origin:0 0;">D</div>
<div class="t" style="left:827px;top:505px;font-size:22px;">户型</div>
<div class="t" id="sub1" style="left:578px;top:565px;font-size:27px;letter-spacing:0.3px;">四室两厅两卫</div>
<div class="t" id="sub2" style="left:773.5px;top:565px;font-size:27px;letter-spacing:0px;">建筑面积约</div>
<div class="t" id="sub3" style="left:909px;top:564px;font-size:28.5px;letter-spacing:1px;">142-145</div>
<div class="t" id="sub4" style="left:1022.5px;top:564px;font-size:28.5px;">m</div>
<div class="t" id="sub5" style="left:1046.5px;top:563px;font-size:11px;">2</div>
<div class="t lb" id="lb0" style="left:498.0px;top:892.0px;">玄关</div>
<div class="t lb" id="lb1" style="left:652.4px;top:900.0px;">厨房</div>
<div class="t lb" id="lb2" style="left:1039.0px;top:956.3px;">书房</div>
<div class="t lb" id="lb3" style="left:849.7px;top:1036.0px;">卧室</div>
<div class="t lb" id="lb4" style="left:637.0px;top:1068.2px;">餐厅</div>
<div class="t lb" id="lb5" style="left:1096.0px;top:1125.0px;">卫生间</div>
<div class="t lb" id="lb6" style="left:1109.7px;top:1250.8px;">主卫</div>
<div class="t lb" id="lb7" style="left:1116.4px;top:1373.4px;">衣帽间</div>
<div class="t lb" id="lb8" style="left:629.7px;top:1424.2px;">客厅</div>
<div class="t lb" id="lb9" style="left:826.8px;top:1446.4px;">卧室</div>
<div class="t lb" id="lb10" style="left:1088.5px;top:1531.9px;">主卧</div>
<div class="t lb" id="lb11" style="left:702.4px;top:1636.9px;">阳台</div>
<div class="t nt" id="nt0" style="left:433.3px;top:2066.0px;">本计划书所示数据仅供参考，不排除调整的可能性，应以最终签订的商品房买卖合同为准；</div>
<div class="t nt" id="nt1" style="left:433.3px;top:2100.8px;">本计划书所示费用不包含办理按揭，产权登记手续等相关税费；</div>
<div class="t nt" id="nt2" style="left:433.3px;top:2136.3px;">本资料涉及内容仅为要约邀请，旨在为客户提供购房参考，不具备合同效力。一切图文资</div>
<div class="t nt" id="nt3" style="left:433.3px;top:2171.3px;">料、规划设计均以政府最终批准文件和买卖双方签订的商品房买卖合同及附件为准；</div>
<div class="t nt" id="nt4" style="left:433.3px;top:2204.6px;">本公司有权对该资料进行调整，请留意最新资料。印刷日期2018年3月。</div>
<div class="t" id="bei" style="left:288px;top:2064px;font-size:11px;color:#444">北</div>
<div class="t" id="elite" style="left:681.5px;top:2288px;font-family:'Liberation Serif',serif;font-size:11.5px;color:#fff;letter-spacing:13.6px">ELITE’SMANSION</div>
</body></html>
